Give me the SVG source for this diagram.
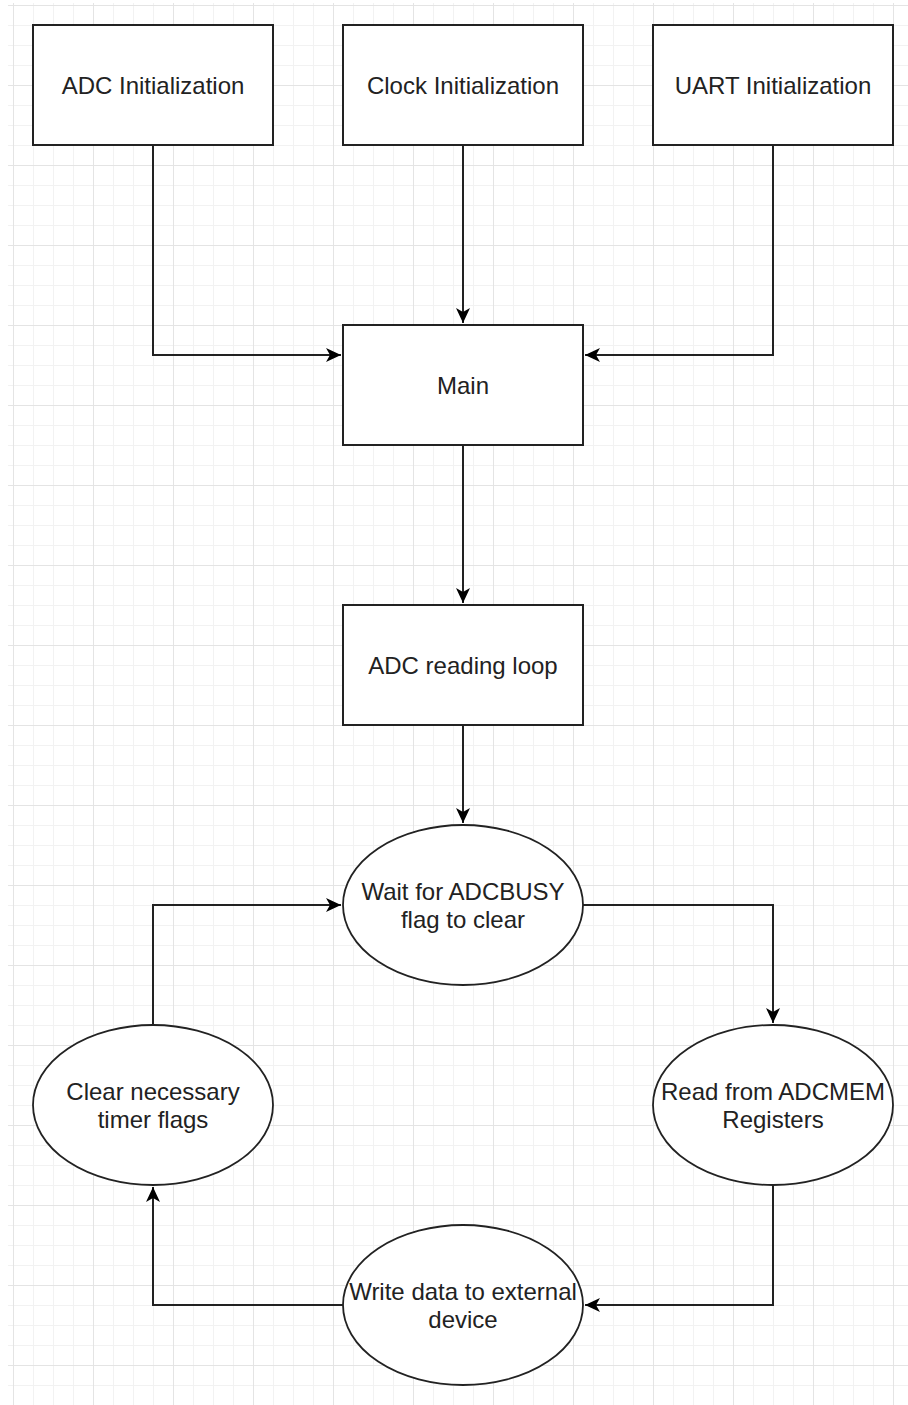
<svg xmlns="http://www.w3.org/2000/svg" width="908" height="1405" viewBox="0 0 908 1405">
  <defs>
    <pattern id="grid" patternUnits="userSpaceOnUse" x="13" y="5" width="80" height="80">
      <rect x="0" y="0" width="80" height="80" fill="#ffffff"/>
      <g fill="#f2f2f2">
        <rect x="20" y="0" width="1" height="80"/>
        <rect x="40" y="0" width="1" height="80"/>
        <rect x="60" y="0" width="1" height="80"/>
        <rect x="0" y="20" width="80" height="1"/>
        <rect x="0" y="40" width="80" height="1"/>
        <rect x="0" y="60" width="80" height="1"/>
      </g>
      <g fill="#e4e4e4">
        <rect x="0" y="0" width="1" height="80"/>
        <rect x="0" y="0" width="80" height="1"/>
      </g>
    </pattern>
    <marker id="arrow" markerUnits="userSpaceOnUse" markerWidth="18" markerHeight="16" refX="15" refY="8" orient="auto">
      <path d="M0,1 L15,8 L0,15 L4,8 Z" fill="#000000"/>
    </marker>
    <style>
      .box { fill: #ffffff; stroke: #222222; stroke-width: 2; }
      .ell { fill: #ffffff; stroke: #222222; stroke-width: 1.8; }
      .edge { fill: none; stroke: #222222; stroke-width: 2; marker-end: url(#arrow); }
      .lbl { font-family: "Liberation Sans", Arial, sans-serif; font-size: 24px; fill: #222222; text-anchor: middle; }
    </style>
  </defs>

  <rect x="0" y="0" width="908" height="1405" fill="#ffffff"/>
  <rect x="8" y="3" width="900" height="1402" fill="url(#grid)"/>

  <g id="connectors">
    <path class="edge" d="M153,145 L153,355 L341,355"/>
    <path class="edge" d="M463,145 L463,323"/>
    <path class="edge" d="M773,145 L773,355 L585,355"/>
    <path class="edge" d="M463,445 L463,603"/>
    <path class="edge" d="M463,725 L463,823"/>
    <path class="edge" d="M583,905 L773,905 L773,1023"/>
    <path class="edge" d="M773,1185 L773,1305 L585,1305"/>
    <path class="edge" d="M343,1305 L153,1305 L153,1187"/>
    <path class="edge" d="M153,1025 L153,905 L341,905"/>
  </g>

  <g id="node-adc-init">
    <rect class="box" x="33" y="25" width="240" height="120"/>
    <text class="lbl" x="153" y="94">ADC Initialization</text>
  </g>
  <g id="node-clock-init">
    <rect class="box" x="343" y="25" width="240" height="120"/>
    <text class="lbl" x="463" y="94">Clock Initialization</text>
  </g>
  <g id="node-uart-init">
    <rect class="box" x="653" y="25" width="240" height="120"/>
    <text class="lbl" x="773" y="94">UART Initialization</text>
  </g>
  <g id="node-main">
    <rect class="box" x="343" y="325" width="240" height="120"/>
    <text class="lbl" x="463" y="394">Main</text>
  </g>
  <g id="node-adc-loop">
    <rect class="box" x="343" y="605" width="240" height="120"/>
    <text class="lbl" x="463" y="674">ADC reading loop</text>
  </g>
  <g id="node-wait">
    <ellipse class="ell" cx="463" cy="905" rx="120" ry="80"/>
    <text class="lbl" x="463" y="900">Wait for ADCBUSY</text>
    <text class="lbl" x="463" y="928">flag to clear</text>
  </g>
  <g id="node-read">
    <ellipse class="ell" cx="773" cy="1105" rx="120" ry="80"/>
    <text class="lbl" x="773" y="1100">Read from ADCMEM</text>
    <text class="lbl" x="773" y="1128">Registers</text>
  </g>
  <g id="node-write">
    <ellipse class="ell" cx="463" cy="1305" rx="120" ry="80"/>
    <text class="lbl" x="463" y="1300">Write data to external</text>
    <text class="lbl" x="463" y="1328">device</text>
  </g>
  <g id="node-clear">
    <ellipse class="ell" cx="153" cy="1105" rx="120" ry="80"/>
    <text class="lbl" x="153" y="1100">Clear necessary</text>
    <text class="lbl" x="153" y="1128">timer flags</text>
  </g>
</svg>
